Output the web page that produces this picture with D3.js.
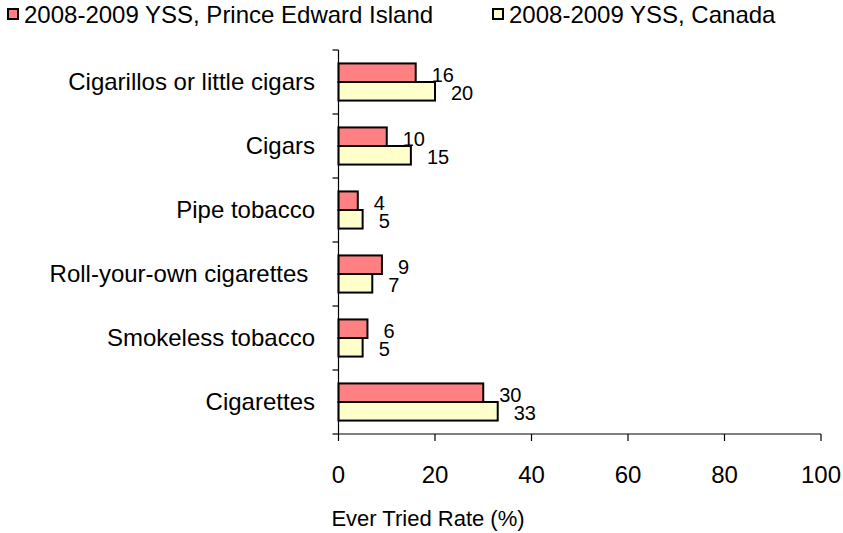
<!DOCTYPE html>
<html>
<head>
<meta charset="utf-8">
<script src="https://cdn.jsdelivr.net/npm/d3@7"></script>
<style>
  html, body { margin: 0; padding: 0; background: #fff; }
  svg { display: block; font-family: "Liberation Sans", Arial, sans-serif; }
  text { white-space: pre; }
</style>
</head>
<body>
<svg id="chart" width="843" height="533"></svg>
<script>
// Categories listed top to bottom
const categories = [
  "Cigarillos or little cigars",
  "Cigars",
  "Pipe tobacco",
  "Roll-your-own cigarettes ",
  "Smokeless tobacco",
  "Cigarettes"
];
const seriesNames = ["2008-2009 YSS, Prince Edward Island", "2008-2009 YSS, Canada"];
const peiValues = [16, 10, 4, 9, 6, 30];
const canadaValues = [20, 15, 5, 7, 5, 33];
const xTicks = [0, 20, 40, 60, 80, 100];
const xTitle = "Ever Tried Rate (%)";
const colors = ["#FF8080", "#FFFFCC"];

const svg = d3.select("#chart");

const x = d3.scaleLinear().domain([0, 100]).range([338.5, 821]);
const y = d3.scaleBand().domain(categories).range([50, 434])
  .paddingInner(0.42).paddingOuter(0.21);
const sub = d3.scaleBand().domain([0, 1]).range([0, y.bandwidth()]);

const rows = categories.map((c, i) => ({ cat: c, vals: [peiValues[i], canadaValues[i]] }));

// Bars
const g = svg.append("g");
const groups = g.selectAll("g.cat").data(rows).join("g")
  .attr("class", "cat")
  .attr("transform", d => `translate(0,${y(d.cat)})`);

groups.selectAll("rect").data(d => d.vals.map((v, s) => ({ v, s }))).join("rect")
  .attr("x", x(0))
  .attr("y", d => sub(d.s))
  .attr("width", d => x(d.v) - x(0))
  .attr("height", sub.bandwidth())
  .attr("fill", d => colors[d.s])
  .attr("stroke", "#000")
  .attr("stroke-width", 2);

groups.selectAll("text").data(d => d.vals.map((v, s) => ({ v, s }))).join("text")
  .attr("x", d => x(d.v) + 16)
  .attr("y", d => sub(d.s) + sub.bandwidth() / 2 + 2)
  .attr("dy", "0.35em")
  .attr("font-size", 20)
  .attr("fill", "#000")
  .text(d => d.v);

// Category axis
const ax = svg.append("g").attr("stroke", "#000").attr("stroke-width", 1.2);
const [y0, y1] = y.range();
ax.append("line").attr("x1", x(0)).attr("x2", x(0)).attr("y1", y0).attr("y2", y1);
d3.range(categories.length + 1).forEach(i => {
  const yy = y0 + i * y.step();
  ax.append("line").attr("x1", x(0) - 6).attr("x2", x(0)).attr("y1", yy).attr("y2", yy);
});
svg.append("g").selectAll("text").data(categories).join("text")
  .attr("x", 315)
  .attr("y", d => y(d) - y.step() * 0.21 + y.step() / 2)
  .attr("dy", "0.35em")
  .attr("text-anchor", "end")
  .attr("font-size", 24)
  .text(d => d);

// Value axis
const xAxis = svg.append("g").attr("transform", `translate(0,${y1})`);
xAxis.append("line").attr("x1", x(0)).attr("x2", x(100))
  .attr("stroke", "#000").attr("stroke-width", 1.2);
xAxis.selectAll("line.tick").data(xTicks).join("line")
  .attr("class", "tick")
  .attr("x1", d => x(d)).attr("x2", d => x(d))
  .attr("y1", 0).attr("y2", 7)
  .attr("stroke", "#000").attr("stroke-width", 1.2);
xAxis.selectAll("text").data(xTicks).join("text")
  .attr("x", d => x(d))
  .attr("y", 49)
  .attr("text-anchor", "middle")
  .attr("font-size", 24)
  .text(d => d);

svg.append("text")
  .attr("x", 428).attr("y", 526)
  .attr("text-anchor", "middle")
  .attr("font-size", 22)
  .text(xTitle);

// Legend
const legendX = [8, 493];
const legend = svg.append("g");
seriesNames.forEach((name, i) => {
  legend.append("rect")
    .attr("x", legendX[i]).attr("y", 9)
    .attr("width", 10).attr("height", 10)
    .attr("fill", colors[i]).attr("stroke", "#000").attr("stroke-width", 2);
  legend.append("text")
    .attr("x", legendX[i] + 16).attr("y", 23)
    .attr("font-size", 24)
    .text(name);
});
</script>
</body>
</html>
